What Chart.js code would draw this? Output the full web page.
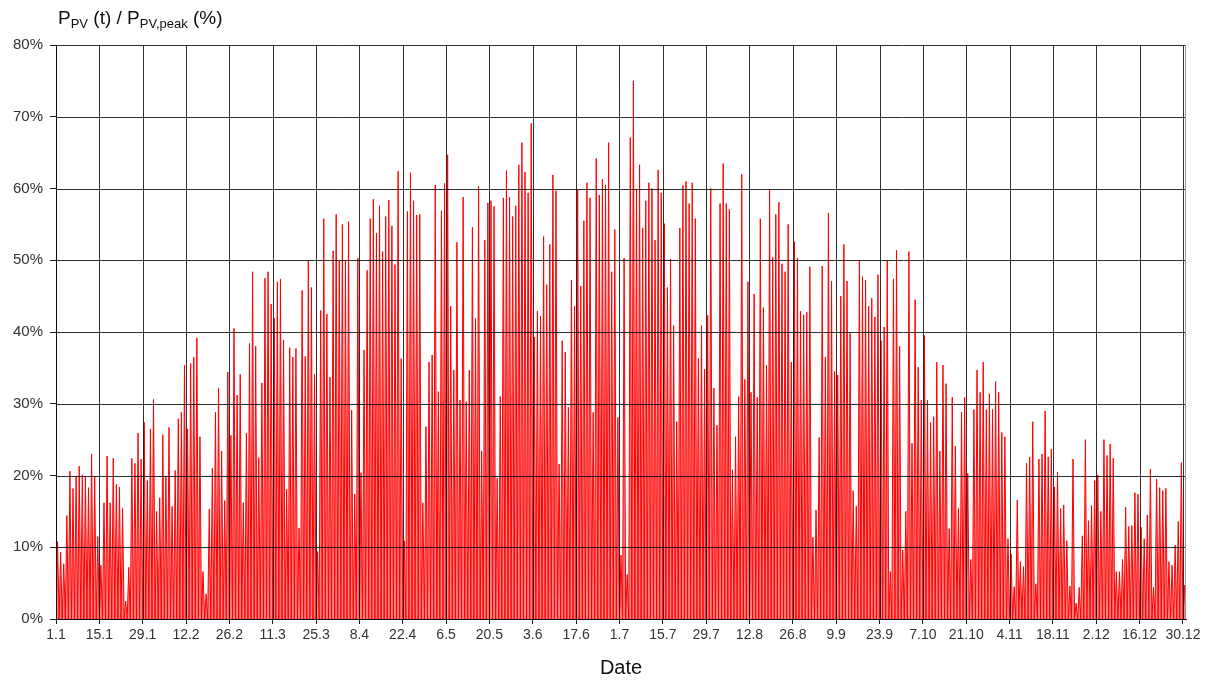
<!DOCTYPE html>
<html>
<head>
<meta charset="utf-8">
<script src="https://cdn.jsdelivr.net/npm/chart.js@4.4.1/dist/chart.umd.min.js"></script>
<style>
  html, body { margin: 0; padding: 0; background: #fff; }
  #wrap { position: relative; width: 1208px; height: 684px; }
  #ytitle {
    position: absolute; left: 58px; top: 7px;
    font-family: "Liberation Sans", Arial, sans-serif; font-size: 19px; color: #111;
    white-space: nowrap;
  }
  #ytitle sub { font-size: 13px; vertical-align: -4px; }
</style>
</head>
<body>
<div id="wrap">
  <canvas id="pvChart" width="1208" height="684"></canvas>
  <div id="ytitle">P<sub>PV</sub> (t) / P<sub>PV,peak</sub> (%)</div>
</div>
<script>
// Tick labels along the date axis (one every 14 days, leap year)
const tickLabels = ['1.1', '15.1', '29.1', '12.2', '26.2', '11.3', '25.3', '8.4', '22.4', '6.5',
    '20.5', '3.6', '17.6', '1.7', '15.7', '29.7', '12.8', '26.8', '9.9', '23.9', '7.10',
    '21.10', '4.11', '18.11', '2.12', '16.12', '30.12'];
const tickStep = 14;

// Daily peak of P_PV / P_PV,peak (%), day 1.1 .. 30.12
const peaksJan = [10.8, 9.3, 7.7, 14.4, 20.6, 18.2, 19.9, 21.3, 20.1, 19.8, 18.3, 23.0, 19.9, 11.5,
    7.5, 16.2, 22.7, 16.2, 22.4, 18.8, 18.4, 15.4, 2.5, 7.2, 22.4, 21.7, 25.9, 22.3, 27.4, 19.3, 26.5];
const peaksFebMar = [30.6, 15.0, 16.9, 25.7, 19.9, 26.7, 15.7, 20.7, 27.9, 28.8, 35.4, 26.5, 35.6, 36.5,
    39.2, 25.4, 6.6, 3.5, 15.3, 21.0, 28.8, 32.2, 23.4, 16.5, 34.4, 25.6, 40.5, 31.2, 34.1, 16.2,
    25.9, 38.4, 48.4, 38.0, 22.5, 32.9, 47.5, 48.4, 43.9, 41.9, 47.0, 47.4, 38.9, 18.1, 37.8, 36.5,
    37.7, 12.7, 45.8, 36.6, 49.9, 46.2, 34.1, 9.4, 43.0, 55.8, 42.5, 33.7, 51.3, 56.4];
const peaksAprMay = [49.9, 55.0, 50.0, 55.4, 29.1, 17.4, 50.3, 20.4, 37.5, 48.6, 55.8, 58.5, 53.8, 57.6,
    51.2, 56.1, 58.4, 54.8, 49.4, 62.4, 36.3, 10.9, 56.8, 62.2, 58.3, 56.3, 56.4, 16.2, 26.8, 35.8,
    36.8, 60.5, 31.7, 56.9, 60.7, 64.7, 43.6, 34.7, 52.5, 30.5, 58.8, 30.3, 34.7, 54.6, 41.9, 60.3,
    23.4, 52.8, 58.0, 58.3, 57.5, 19.6, 31.0, 58.7, 62.5, 58.8, 56.1, 57.6, 63.3, 66.4, 62.3];
const peaksJunJul = [59.4, 69.1, 39.3, 42.9, 42.2, 53.3, 46.6, 52.2, 61.9, 59.7, 21.6, 38.8, 37.2, 29.5,
    47.2, 43.6, 59.8, 46.4, 55.5, 60.8, 58.7, 28.8, 64.2, 59.1, 61.3, 60.5, 66.4, 48.4, 54.3, 28.1,
    8.9, 50.3, 6.2, 67.1, 75.0, 59.9, 63.3, 54.5, 58.3, 60.8, 60.0, 52.8, 62.6, 59.4, 55.1, 46.2,
    50.2, 40.9, 27.5, 54.5, 60.4, 61.0, 57.9, 60.8, 55.8, 36.3, 40.9, 34.8, 42.3, 60.0, 32.2];
const peaksAugSep = [27.0, 57.9, 63.5, 57.9, 57.1, 20.8, 25.4, 31.0, 62.0, 33.4, 47.0, 31.6, 45.3, 30.9,
    55.8, 43.4, 35.4, 59.8, 50.4, 56.4, 58.1, 49.5, 48.4, 55.0, 35.8, 52.6, 50.3, 42.9, 42.4, 42.8,
    49.1, 11.4, 15.2, 25.3, 49.2, 36.5, 56.6, 47.1, 34.5, 34.0, 45.0, 52.2, 47.1, 39.8, 17.9, 15.7,
    50.0, 47.7, 47.2, 43.6, 44.7, 42.1, 48.0, 38.8, 40.7, 50.0, 6.6, 47.4, 51.4, 38.0, 9.6];
const peaksOctDec = [15.0, 51.2, 24.5, 44.5, 35.1, 30.5, 39.5, 30.5, 27.4, 28.2, 35.8, 23.4, 35.4, 32.8,
    12.6, 30.9, 24.1, 15.4, 28.8, 30.9, 20.3, 8.3, 29.2, 34.7, 31.6, 35.8, 29.2, 31.4, 29.2, 33.1,
    31.6, 26.0, 25.4, 11.2, 9.1, 4.5, 16.6, 8.0, 7.3, 21.7, 22.6, 27.5, 4.9, 22.3, 23.0, 29.0, 22.6,
    23.7, 18.4, 20.5, 15.4, 15.9, 10.9, 4.6, 22.3, 2.2, 4.4, 11.6, 25.0, 13.7, 15.8, 19.3, 20.1,
    15.0, 25.0, 22.8, 24.4, 22.4, 6.6, 6.6, 8.3, 15.6, 12.9, 13.0, 17.6, 17.4, 12.8, 11.2, 14.5,
    20.9, 4.4, 19.5, 18.3, 17.9, 18.2, 8.0, 7.5, 10.3, 13.6, 21.8, 4.7];

const dailyPeaks = [].concat(peaksJan, peaksFebMar, peaksAprMay, peaksJunJul, peaksAugSep, peaksOctDec);

// Night values are zero; each day rises to its noon peak
const points = [];
dailyPeaks.forEach((p, d) => {
    points.push({ x: d, y: 0 });
    points.push({ x: d + 0.5, y: p });
});
points.push({ x: dailyPeaks.length, y: 0 });

const tickDays = tickLabels.map((_, i) => i * tickStep);

const fontFamily = '"Liberation Sans", Arial, sans-serif';

// Grid lines are painted over the red area, as in the original
const gridOnTop = {
    id: 'gridOnTop',
    afterDatasetsDraw(chart) {
        const { ctx, chartArea: a, scales } = chart;
        ctx.save();
        ctx.lineWidth = 1;
        ctx.strokeStyle = 'rgba(10, 10, 10, 0.85)';
        ctx.beginPath();
        scales.x.ticks.forEach(t => {
            const px = Math.round(scales.x.getPixelForValue(t.value)) + 0.5;
            ctx.moveTo(px, a.top);
            ctx.lineTo(px, a.bottom);
        });
        scales.y.ticks.forEach(t => {
            const py = Math.round(scales.y.getPixelForValue(t.value)) + 0.5;
            ctx.moveTo(a.left, py);
            ctx.lineTo(a.right, py);
        });
        ctx.stroke();
        // thin grey frame on the right
        ctx.strokeStyle = '#999';
        ctx.beginPath();
        ctx.moveTo(Math.round(a.right) - 0.5, a.top);
        ctx.lineTo(Math.round(a.right) - 0.5, a.bottom);
        ctx.stroke();
        ctx.restore();
    }
};

const ctx = document.getElementById('pvChart').getContext('2d');
const pvChart = new Chart(ctx, {
    type: 'line',
    data: {
        datasets: [{
            data: points,
            borderColor: '#ff0000',
            borderWidth: 1,
            backgroundColor: 'rgba(255, 0, 0, 0.5)',
            fill: 'origin',
            pointRadius: 0,
            tension: 0
        }]
    },
    options: {
        responsive: false,
        animation: false,
        layout: { padding: { top: 45, right: 22, left: 0, bottom: 0 } },
        plugins: {
            legend: { display: false },
            tooltip: { enabled: false }
        },
        scales: {
            x: {
                type: 'linear',
                min: 0,
                max: dailyPeaks.length,
                afterBuildTicks: (scale) => {
                    scale.ticks = tickDays.map(v => ({ value: v }));
                },
                afterFit: (scale) => { scale.height = 65; },
                ticks: {
                    autoSkip: false,
                    maxRotation: 0,
                    padding: 3,
                    color: '#333',
                    font: { family: fontFamily, size: 14 },
                    callback: (v) => tickLabels[Math.round(v / tickStep)]
                },
                grid: { color: '#1a1a1a', lineWidth: 1, tickLength: 5, drawOnChartArea: false },
                border: { color: '#1a1a1a' },
                title: {
                    display: true,
                    text: 'Date',
                    color: '#111',
                    font: { family: fontFamily, size: 20 },
                    padding: { top: 4, bottom: 4 }
                }
            },
            y: {
                min: 0,
                max: 80,
                afterFit: (scale) => { scale.width = 56; },
                ticks: {
                    stepSize: 10,
                    padding: 7,
                    color: '#333',
                    font: { family: fontFamily, size: 15 },
                    callback: (v) => v + '%'
                },
                grid: { color: '#1a1a1a', lineWidth: 1, tickLength: 6, drawOnChartArea: false },
                border: { color: '#1a1a1a' }
            }
        }
    },
    plugins: [gridOnTop]
});
</script>
</body>
</html>
